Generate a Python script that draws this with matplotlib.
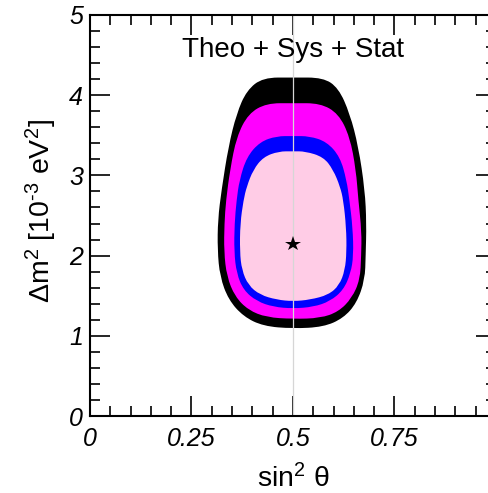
import numpy as np
import matplotlib
matplotlib.use("Agg")
import matplotlib.pyplot as plt
from matplotlib.path import Path
from matplotlib.patches import PathPatch
from matplotlib.ticker import MultipleLocator

plt.rcParams["font.family"] = ["Liberation Sans", "DejaVu Sans"]
plt.rcParams["mathtext.fontset"] = "custom"
plt.rcParams["mathtext.rm"] = "Liberation Sans"
plt.rcParams["mathtext.it"] = "Liberation Sans:italic"
plt.rcParams["mathtext.default"] = "regular"

# Allowed-region boundaries (sin^2 theta, dm^2 in 1e-3 eV^2), outermost first
black_s2 = [0.500, 0.574, 0.612, 0.640, 0.661, 0.677, 0.681, 0.679, 0.677, 0.657, 0.624, 0.575,
            0.500, 0.427, 0.378, 0.341, 0.320, 0.314, 0.315, 0.324, 0.341, 0.361, 0.386, 0.426]
black_dm = [4.22, 4.22, 4.09, 3.77, 3.36, 2.82, 2.40, 2.00, 1.70, 1.41, 1.22, 1.11,
            1.09, 1.12, 1.24, 1.45, 1.74, 2.07, 2.45, 2.82, 3.36, 3.77, 4.06, 4.22]

magenta_s2 = [0.500, 0.567, 0.612, 0.640, 0.655, 0.661, 0.669, 0.668, 0.665, 0.645, 0.612, 0.567,
              0.500, 0.435, 0.390, 0.357, 0.337, 0.330, 0.331, 0.335, 0.345, 0.361, 0.390, 0.435]
magenta_dm = [3.90, 3.90, 3.77, 3.48, 3.07, 2.69, 2.30, 2.00, 1.70, 1.47, 1.30, 1.22,
              1.21, 1.23, 1.32, 1.49, 1.74, 2.05, 2.40, 2.69, 3.07, 3.48, 3.77, 3.90]

blue_s2 = [0.500, 0.540, 0.583, 0.616, 0.632, 0.639, 0.647, 0.649, 0.642, 0.624, 0.591, 0.550,
           0.500, 0.452, 0.411, 0.378, 0.361, 0.355, 0.356, 0.361, 0.368, 0.386, 0.419, 0.460]
blue_dm = [3.49, 3.49, 3.42, 3.23, 2.94, 2.69, 2.35, 2.00, 1.78, 1.57, 1.43, 1.36,
           1.34, 1.36, 1.43, 1.57, 1.78, 2.05, 2.40, 2.69, 2.94, 3.23, 3.42, 3.49]

pink_s2 = [0.500, 0.530, 0.575, 0.599, 0.616, 0.624, 0.631, 0.632, 0.628, 0.614, 0.587, 0.542,
           0.500, 0.460, 0.419, 0.390, 0.374, 0.369, 0.370, 0.378, 0.386, 0.402, 0.427, 0.465]
pink_dm = [3.30, 3.30, 3.23, 3.07, 2.86, 2.69, 2.35, 2.05, 1.82, 1.63, 1.51, 1.45,
           1.43, 1.45, 1.51, 1.63, 1.82, 2.05, 2.40, 2.69, 2.86, 3.07, 3.23, 3.30]

region_colors = ["#000000", "#ff00ff", "#0000ff", "#ffcce6"]

best_fit_s2 = 0.5
best_fit_dm = 2.15

x_ticks = [0, 0.25, 0.5, 0.75]
x_tick_labels = ["0", "0.25", "0.5", "0.75"]
y_ticks = [0, 1, 2, 3, 4, 5]
y_tick_labels = ["0", "1", "2", "3", "4", "5"]


def closed_smooth_path(xs, ys):
    """Closed quadratic-Bezier path using the boundary points as control points."""
    pts = np.column_stack([xs, ys])
    n = len(pts)
    mids = (pts + np.roll(pts, -1, axis=0)) / 2.0
    verts = [mids[-1]]
    codes = [Path.MOVETO]
    for i in range(n):
        verts += [pts[i], mids[i]]
        codes += [Path.CURVE3, Path.CURVE3]
    verts.append(mids[-1])
    codes.append(Path.CLOSEPOLY)
    return Path(verts, codes)


W, H = 489, 493
fig = plt.figure(figsize=(W / 100, H / 100), dpi=100)
ax = fig.add_axes([90 / W, (H - 416) / H, 406 / W, 401 / H])

regions = [(black_s2, black_dm), (magenta_s2, magenta_dm),
           (blue_s2, blue_dm), (pink_s2, pink_dm)]
for (xs, ys), col in zip(regions, region_colors):
    ax.add_patch(PathPatch(closed_smooth_path(xs, ys), facecolor=col,
                           edgecolor="none", zorder=1))

ax.axvline(best_fit_s2, color="#d6d6d6", lw=0.9, zorder=2)
ax.plot([best_fit_s2], [best_fit_dm], marker="*", color="black", ms=11.5,
        markeredgewidth=0, zorder=3)

ax.text(0.5, 4.56, "Theo + Sys + Stat", ha="center", va="center", fontsize=20)

ax.set_xlim(0, 1)
ax.set_ylim(0, 5)
ax.set_xticks(x_ticks)
ax.set_xticklabels(x_tick_labels, fontstyle="italic", fontsize=18)
ax.set_yticks(y_ticks)
ax.set_yticklabels(y_tick_labels, fontstyle="italic", fontsize=18)
ax.xaxis.set_minor_locator(MultipleLocator(0.05))
ax.yaxis.set_minor_locator(MultipleLocator(0.2))
ax.tick_params(which="both", direction="in", top=True, right=True, width=1.2)
ax.tick_params(which="major", length=14.5)
ax.tick_params(which="minor", length=7.2)
ax.tick_params(axis="x", which="major", pad=8)
ax.tick_params(axis="y", which="major", pad=5)
for sp in ax.spines.values():
    sp.set_linewidth(1.5)

ax.set_xlabel(r"sin$^{2}$ $\theta$", fontsize=20.5)
ax.xaxis.label.set_verticalalignment("baseline")
ax.xaxis.set_label_coords(0.5, -0.177)
ax.set_ylabel(r"$\Delta$m$^{2}$ [10$^{\text{-}3}$ eV$^{2}$]", fontsize=20.5)
ax.yaxis.label.set_verticalalignment("baseline")
ax.yaxis.set_label_coords(-0.0985, 0.51)

fig.savefig("out.png", dpi=100)
